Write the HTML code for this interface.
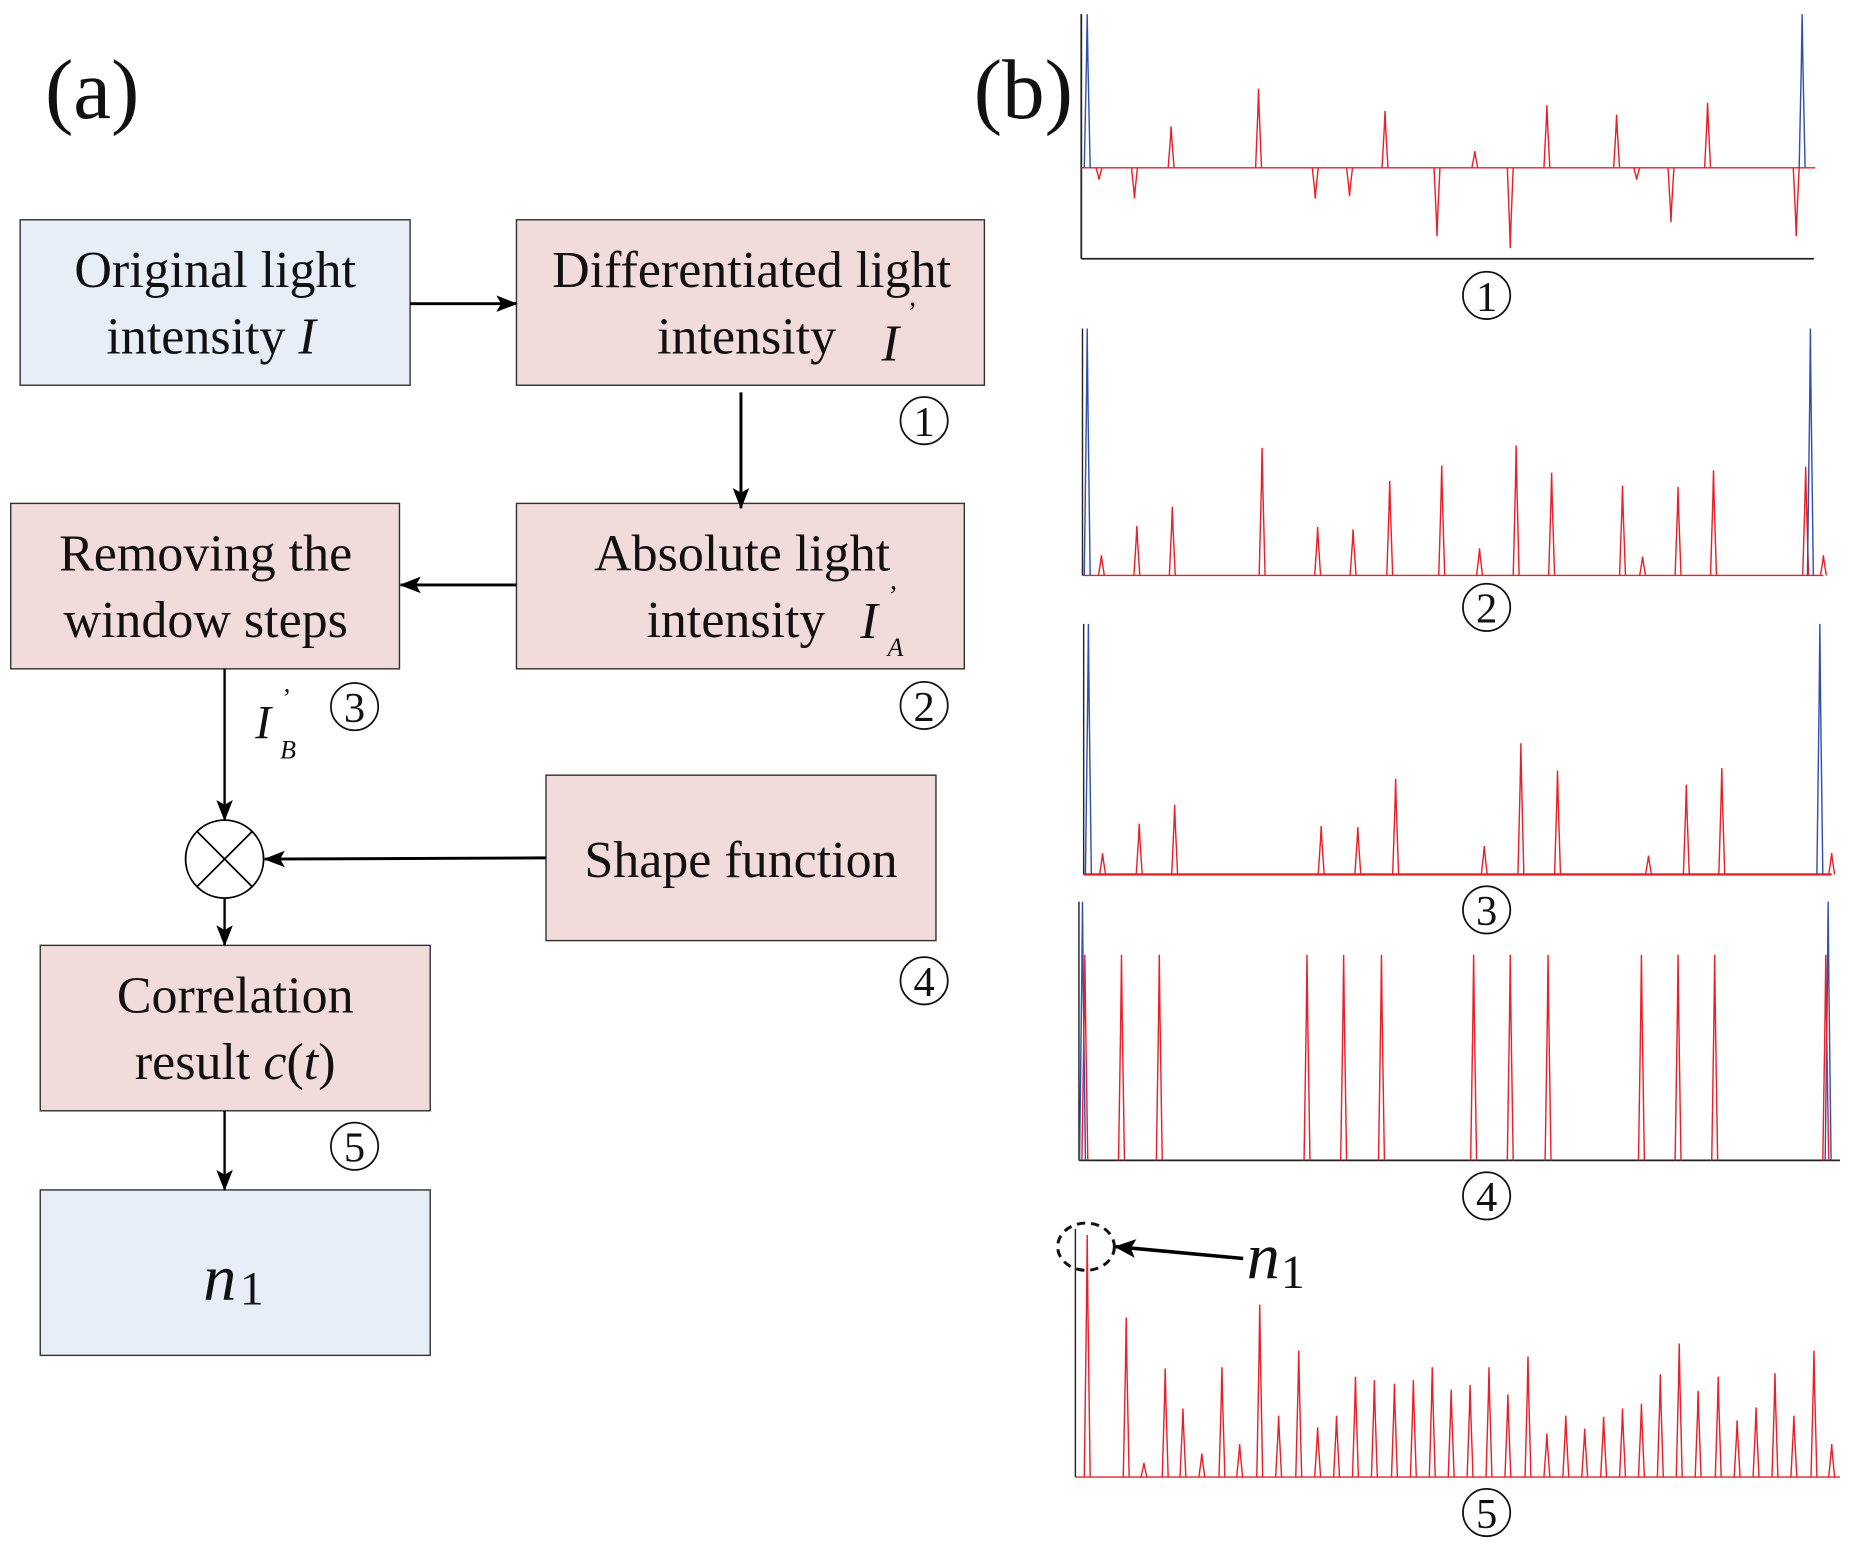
<!DOCTYPE html>
<html><head><meta charset="utf-8"><style>
html,body{margin:0;padding:0;background:#fff;}
svg{display:block;}
text{font-family:"Liberation Serif",serif;fill:#111;}
</style></head><body>
<svg id="s" width="1853" height="1548" viewBox="0 0 1568 1310" xmlns="http://www.w3.org/2000/svg">
<defs>
<marker id="ah" markerWidth="18" markerHeight="14" refX="17" refY="7" orient="auto" markerUnits="userSpaceOnUse">
<path d="M0,0 L18,7 L0,14 L4,7 Z" fill="#000"/></marker>
<marker id="ah2" markerWidth="18" markerHeight="16" refX="17" refY="8" orient="auto" markerUnits="userSpaceOnUse">
<path d="M0,0 L18,8 L0,16 L4,8 Z" fill="#000"/></marker>
</defs>
<text x="38" y="100" font-size="72">(a)</text>
<text x="824" y="100" font-size="72">(b)</text>

<g stroke="#333" stroke-width="1.2">
<rect x="17" y="186" width="330" height="140" fill="#e8eef8"/>
<rect x="437" y="186" width="396" height="140" fill="#f2dcdb"/>
<rect x="437" y="426" width="379" height="140" fill="#f2dcdb"/>
<rect x="9" y="426" width="329" height="140" fill="#f2dcdb"/>
<rect x="462" y="656" width="330" height="140" fill="#f2dcdb"/>
<rect x="34" y="800" width="330" height="140" fill="#f2dcdb"/>
<rect x="34" y="1007" width="330" height="140" fill="#e8eef8"/>
</g>

<g font-size="44">
<text x="182" y="243" text-anchor="middle">Original light</text>
<text x="90" y="299">intensity <tspan font-style="italic">I</tspan></text>
<text x="636" y="243" text-anchor="middle">Differentiated light</text>
<text x="556" y="299">intensity</text>
<text x="746" y="305" font-style="italic">I</text><text x="768" y="272" font-size="24">’</text>
<text x="628" y="483" text-anchor="middle">Absolute light</text>
<text x="547" y="539">intensity</text>
<text x="728" y="540" font-style="italic">I</text><text x="752" y="512" font-size="24">’</text><text x="751" y="555" font-size="22" font-style="italic">A</text>
<text x="174" y="483" text-anchor="middle">Removing the</text>
<text x="174" y="539" text-anchor="middle">window steps</text>
<text x="627" y="742" text-anchor="middle">Shape function</text>
<text x="199" y="857" text-anchor="middle">Correlation</text>
<text x="199" y="913" text-anchor="middle">result <tspan font-style="italic">c</tspan>(<tspan font-style="italic">t</tspan>)</text>
</g>
<text x="216" y="625" font-size="40" font-style="italic">I</text><text x="239" y="598" font-size="22">’</text><text x="237" y="642" font-size="22" font-style="italic">B</text>
<text x="172" y="1100" font-size="56" font-style="italic">n</text><text x="203" y="1104" font-size="40">1</text>

<g stroke="#000" stroke-width="2.5" fill="none">
<line x1="347" y1="257" x2="437" y2="257" marker-end="url(#ah)"/>
<line x1="627" y1="332" x2="627" y2="430" marker-end="url(#ah)"/>
<line x1="437" y1="495" x2="339" y2="495" marker-end="url(#ah)"/>
<line x1="190" y1="566" x2="190" y2="694" stroke-width="2" marker-end="url(#ah)"/>
<line x1="462" y1="726" x2="224" y2="727" marker-end="url(#ah)"/>
<line x1="190" y1="760" x2="190" y2="800" stroke-width="2" marker-end="url(#ah)"/>
<line x1="190" y1="940" x2="190" y2="1007" stroke-width="2" marker-end="url(#ah)"/>
</g>
<g stroke="#000" stroke-width="1.5" fill="#fff">
<circle cx="190" cy="727" r="33"/>
<line x1="167" y1="704" x2="213" y2="750"/><line x1="213" y1="704" x2="167" y2="750"/>
</g>

<g id="plots" fill="none" stroke-width="1.2"></g>
<g id="circ"></g>

<ellipse cx="919" cy="1055" rx="24" ry="20" fill="none" stroke="#111" stroke-width="2.5" stroke-dasharray="7,5"/>
<line x1="1052" y1="1065" x2="944" y2="1055" stroke="#000" stroke-width="3" marker-end="url(#ah2)"/>
<text x="1055" y="1082" font-size="56" font-style="italic">n</text><text x="1084" y="1090" font-size="40">1</text>
</svg>
<script>
var NS="http://www.w3.org/2000/svg";
var P=document.getElementById("plots"),C=document.getElementById("circ");
function el(t,a,p){var e=document.createElementNS(NS,t);for(var k in a)e.setAttribute(k,a[k]);(p||P).appendChild(e);return e;}
function peak(x,base,top,col,w){w=w||2.5;el("path",{d:"M"+(x-w)+","+base+" L"+(x-0.6)+","+(top+(base-top)*0.3)+" L"+x+","+top+" L"+(x+0.6)+","+(top+(base-top)*0.3)+" L"+(x+w)+","+base,stroke:col});}
function circ(x,y,n){el("circle",{cx:x,cy:y,r:20,fill:"none",stroke:"#111","stroke-width":1.5},C);var t=el("text",{x:x,y:y+13,"font-size":36,"text-anchor":"middle"},C);t.textContent=n;}
var R="#e8202a",B="#3050b0",K="#222";
el("line",{x1:915,y1:12,x2:915,y2:219,stroke:K,"stroke-width":1.5});
el("line",{x1:915,y1:219,x2:1535,y2:219,stroke:K,"stroke-width":1.5});
el("line",{x1:915,y1:142,x2:1536,y2:142,stroke:R});
[[991,107],[1065,75],[1172,94],[1248,128],[1309,89],[1368,97],[1445,87],[930,152],[960,168],[1113,168],[1142,166],[1216,200],[1278,210],[1385,152],[1414,188],[1520,200]].forEach(function(p){peak(p[0],142,p[1],R);});
peak(920,142,12,B);peak(1525,142,12,B);
circ(1258,250,"1");
el("line",{x1:916,y1:278,x2:916,y2:487,stroke:K});
el("line",{x1:916,y1:487,x2:1543,y2:487,stroke:R});
[[932,470],[962,445],[992,429],[1068,379],[1115,446],[1145,448],[1176,407],[1220,394],[1252,464],[1283,377],[1313,400],[1373,411],[1390,471],[1420,412],[1450,398],[1528,395],[1543,470]].forEach(function(p){peak(p[0],487,p[1],R);});
peak(920,487,278,B);peak(1532,487,278,B);
circ(1258,514,"2");
el("line",{x1:917,y1:528,x2:917,y2:740,stroke:K});
el("line",{x1:917,y1:740,x2:1550,y2:740,stroke:R,"stroke-width":2});
[[933,722],[964,697],[994,681],[1118,699],[1149,700],[1181,659],[1256,716],[1287,629],[1318,652],[1395,724],[1427,664],[1457,650],[1550,722]].forEach(function(p){peak(p[0],740,p[1],R);});
peak(921,740,528,B);peak(1540,740,528,B);
circ(1258,770,"3");
el("line",{x1:913,y1:763,x2:913,y2:982,stroke:K});
el("line",{x1:913,y1:982,x2:1557,y2:982,stroke:K,"stroke-width":1.5});
peak(916,982,763,B);peak(1547,982,763,B);
[918,949,981,1106,1137,1169,1247,1278,1310,1389,1420,1451,1545].forEach(function(x){peak(x,982,808,R);});
circ(1258,1012,"4");
el("line",{x1:910,y1:1040,x2:910,y2:1250,stroke:K});
el("line",{x1:910,y1:1250,x2:1557,y2:1250,stroke:R});
[[920,1045],[953,1115],[968,1238],[986,1158],[1001,1192],[1017,1230],[1034,1157],[1049,1222],[1066,1104],[1082,1198],[1099,1143],[1115,1208],[1131,1198],[1147,1165],[1163,1168],[1180,1171],[1196,1168],[1212,1157],[1228,1176],[1244,1172],[1260,1157],[1276,1180],[1293,1148],[1309,1213],[1325,1198],[1341,1209],[1357,1199],[1373,1192],[1389,1188],[1405,1163],[1421,1137],[1437,1177],[1454,1165],[1470,1202],[1486,1191],[1502,1162],[1518,1198],[1535,1143],[1550,1222]].forEach(function(p){peak(p[0],1250,p[1],R);});
circ(1258,1280,"5");
circ(782,356,"1");circ(782,597,"2");circ(300,598,"3");circ(782,830,"4");circ(300,970,"5");
</script>
</body></html>
